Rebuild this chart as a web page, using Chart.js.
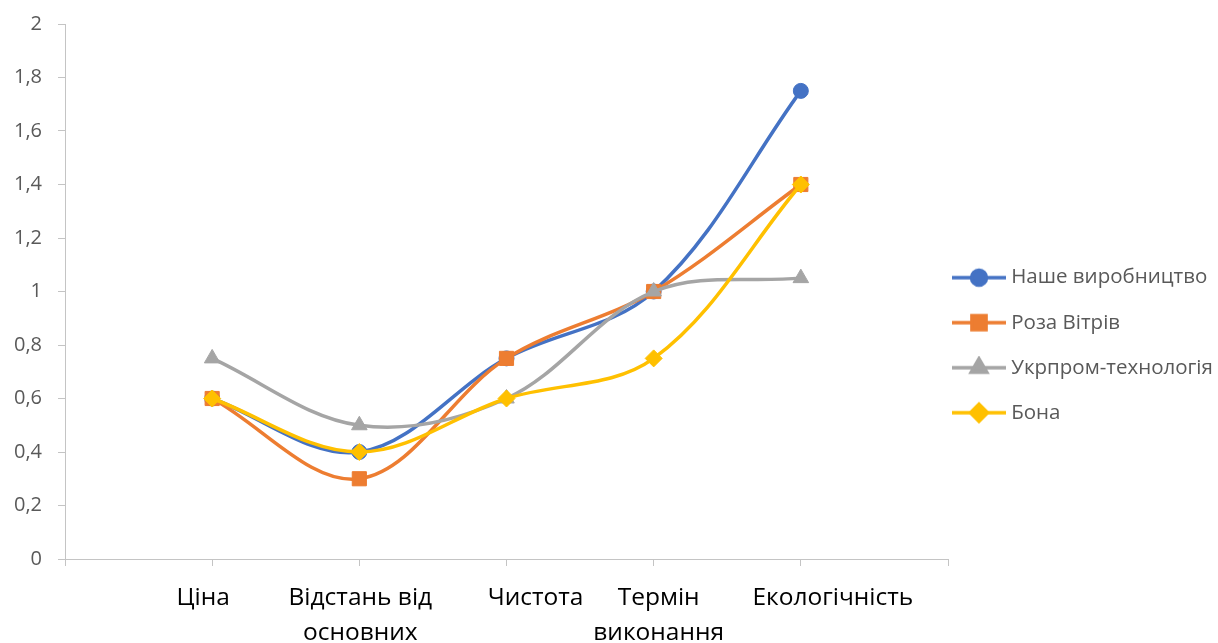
<!DOCTYPE html>
<html>
<head>
<meta charset="utf-8">
<script src="https://cdn.jsdelivr.net/npm/chart.js@4.4.1/dist/chart.umd.min.js"></script>
<style>
  html, body { margin: 0; padding: 0; background: #ffffff; }
  #wrap { width: 1218px; height: 643px; }
</style>
</head>
<body>
<div id="wrap"><canvas id="chart" width="1218" height="643"></canvas></div>
<script>
// Criteria along the horizontal axis (multi-line labels as arrays)
const categories = ['Ціна', ['Відстань від', 'основних'], 'Чистота', ['Термін', 'виконання'], 'Екологічність'];

// Scores per producer
const nasheVyrobnytstvo = [0.6, 0.4, 0.75, 1.0, 1.75];
const rozaVitriv        = [0.6, 0.3, 0.75, 1.0, 1.4];
const ukrpromTekhnolohiia = [0.75, 0.5, 0.6, 1.0, 1.05];
const bona              = [0.6, 0.4, 0.6, 0.75, 1.4];

const seriesNames = ['Наше виробництво', 'Роза Вітрів', 'Укрпром-технологія', 'Бона'];
const seriesValues = [nasheVyrobnytstvo, rozaVitriv, ukrpromTekhnolohiia, bona];

// Value axis range
const yMin = 0;
const yMax = 2;
const yStep = 0.2;

// Look of each series
const seriesStyles = [
  { color: '#4472C4', pointStyle: 'circle',   radius: 7.5 },
  { color: '#ED7D31', pointStyle: 'rect',     radius: 10 },
  { color: '#A5A5A5', pointStyle: 'triangle', radius: 9 },
  { color: '#FFC000', pointStyle: 'rectRot',  radius: 8.5 }
];

const FONT = "'Open Sans', 'Noto Sans', sans-serif";
const AXIS_GRAY = '#C4C4C4';
Chart.defaults.font.family = FONT;

// Small horizontal shifts of the category captions (px)
const captionShift = [-9, 1, 29, 5, 32];

// Legend icon: a short line with the series marker in the middle
function legendIcon(style) {
  const c = document.createElement('canvas');
  c.width = 60; c.height = 24;
  const ctx = c.getContext('2d');
  ctx.strokeStyle = style.color;
  ctx.lineWidth = 3.5;
  ctx.beginPath();
  ctx.moveTo(6, 12);
  ctx.lineTo(60, 12);
  ctx.stroke();
  ctx.fillStyle = style.color;
  ctx.strokeStyle = style.color;
  Chart.helpers.drawPoint(ctx, { pointStyle: style.pointStyle, radius: style.radius, rotation: 0, borderWidth: 1 }, 33, 12);
  return c;
}
const legendIcons = seriesStyles.map(legendIcon);

const datasets = seriesNames.map((name, i) => ({
  label: name,
  data: seriesValues[i].map((v, k) => ({ x: k + 1, y: v })),
  borderColor: seriesStyles[i].color,
  backgroundColor: seriesStyles[i].color,
  pointBackgroundColor: seriesStyles[i].color,
  pointBorderColor: seriesStyles[i].color,
  pointBorderWidth: 1,
  pointStyle: seriesStyles[i].pointStyle,
  pointRadius: seriesStyles[i].radius,
  pointHoverRadius: seriesStyles[i].radius,
  borderWidth: 3.5,
  tension: 0.35,
  fill: false,
  clip: false,
  order: seriesNames.length - 1 - i   // later series are painted on top
}));

// Moves the category captions sideways after the axis has laid them out
const shiftCaptions = {
  id: 'shiftCaptions',
  beforeDraw(chart) {
    const scale = chart.scales.x;
    const items = scale.getLabelItems();
    if (items._shifted) return;
    items.forEach((item, i) => {
      const idx = scale.ticks[i] ? scale.ticks[i].value - 1 : -1;
      if (idx >= 0 && idx < captionShift.length) {
        item.options.translation[0] += captionShift[idx];
      }
    });
    items._shifted = true;
  }
};

new Chart(document.getElementById('chart'), {
  type: 'line',
  data: { datasets },
  plugins: [shiftCaptions],
  options: {
    responsive: false,
    animation: false,
    devicePixelRatio: 1,
    layout: { padding: { top: 24, right: 0, bottom: 0, left: 0 } },
    scales: {
      x: {
        type: 'linear',
        min: 0,
        max: categories.length + 1,
        afterFit(scale) { scale.height = 84; },
        border: { display: true, color: AXIS_GRAY, width: 1 },
        grid: { drawOnChartArea: false, drawTicks: true, tickLength: 7, tickColor: AXIS_GRAY },
        ticks: {
          stepSize: 1,
          autoSkip: false,
          maxRotation: 0,
          padding: 14,
          color: '#000000',
          font: { size: 24.5, lineHeight: 1.43 },
          callback: (v) => categories[v - 1] !== undefined ? categories[v - 1] : ''
        }
      },
      y: {
        min: yMin,
        max: yMax,
        afterFit(scale) { scale.width = 65; },
        border: { display: true, color: AXIS_GRAY, width: 1 },
        grid: { drawOnChartArea: false, drawTicks: true, tickLength: 7, tickColor: AXIS_GRAY },
        ticks: {
          stepSize: yStep,
          padding: 16,
          color: '#595959',
          font: { size: 20, lineHeight: 0.7 },
          callback: (v) => String(Math.round(v * 10) / 10).replace('.', ',')
        }
      }
    },
    plugins: {
      tooltip: { enabled: false },
      legend: {
        position: 'right',
        align: 'start',
        maxWidth: 270,
        // empty title used as a spacer so the rows sit beside the middle of the plot
        title: { display: true, text: '', font: { size: 12, lineHeight: 1.2 }, padding: { top: 0, bottom: 226 } },
        labels: {
          usePointStyle: true,
          pointStyleWidth: 50,
          padding: 3,
          color: '#595959',
          font: { size: 20.5, lineHeight: 2.05 },
          sort: (a, b) => a.datasetIndex - b.datasetIndex,
          generateLabels(chart) {
            const items = Chart.defaults.plugins.legend.labels.generateLabels(chart);
            return items.map(it => Object.assign({}, it, {
              text: [it.text],
              pointStyle: legendIcons[it.datasetIndex]
            }));
          }
        }
      }
    }
  }
});
</script>
</body>
</html>
